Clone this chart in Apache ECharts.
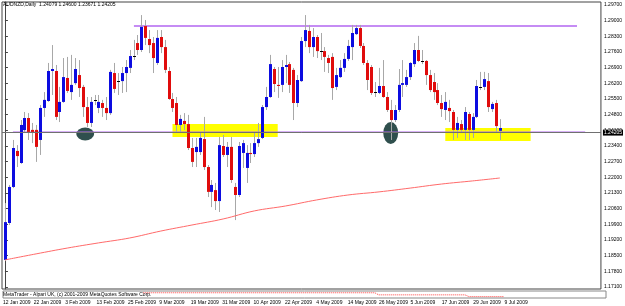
<!DOCTYPE html>
<html><head><meta charset="utf-8">
<script src="https://cdn.jsdelivr.net/npm/echarts@6/dist/echarts.min.js"></script>
<style>html,body{margin:0;padding:0;background:#fff;}#c{width:625px;height:306px;}</style>
</head><body><div id="c"></div>
<script>
// ---- data ----
const openP  = [1.1831,1.1996,1.2157,1.2318,1.2264,1.2411,1.2465,1.2412,1.2412,1.2367,1.2510,1.2541,1.2675,1.2675,1.2492,1.2537,1.2644,1.2581,1.2621,1.2657,1.2604,1.2514,1.2443,1.2546,1.2510,1.2532,1.2510,1.2487,1.2666,1.2630,1.2630,1.2666,1.2689,1.2742,1.2800,1.2769,1.2876,1.2818,1.2800,1.2711,1.2827,1.2782,1.2675,1.2550,1.2532,1.2434,1.2452,1.2438,1.2331,1.2313,1.2313,1.2371,1.2246,1.2135,1.2143,1.2094,1.2340,1.2300,1.2336,1.2157,1.2121,1.2309,1.2242,1.2309,1.2304,1.2353,1.2376,1.2514,1.2559,1.2684,1.2613,1.2613,1.2693,1.2706,1.2680,1.2532,1.2630,1.2809,1.2854,1.2782,1.2827,1.2764,1.2764,1.2733,1.2738,1.2604,1.2648,1.2689,1.2729,1.2782,1.2840,1.2867,1.2787,1.2711,1.2693,1.2581,1.2577,1.2608,1.2559,1.2501,1.2456,1.2501,1.2613,1.2613,1.2648,1.2706,1.2769,1.2720,1.2720,1.2657,1.2626,1.2590,1.2532,1.2501,1.2510,1.2492,1.2412,1.2438,1.2412,1.2483,1.2412,1.2470,1.2604,1.2604,1.2630,1.2505,1.2532,1.24079];
const closeP = [1.2000,1.2157,1.2331,1.2295,1.2434,1.2465,1.2403,1.2403,1.2336,1.2510,1.2546,1.2675,1.2684,1.2470,1.2537,1.2648,1.2586,1.2613,1.2684,1.2599,1.2514,1.2443,1.2537,1.2546,1.2537,1.2510,1.2487,1.2671,1.2595,1.2630,1.2666,1.2693,1.2742,1.2742,1.2769,1.2872,1.2823,1.2791,1.2733,1.2823,1.2782,1.2680,1.2550,1.2510,1.2434,1.2461,1.2438,1.2331,1.2269,1.2336,1.2376,1.2246,1.2135,1.2166,1.2094,1.2344,1.2300,1.2336,1.2188,1.2121,1.2340,1.2353,1.2309,1.2304,1.2353,1.2371,1.2514,1.2559,1.2706,1.2617,1.2608,1.2693,1.2702,1.2613,1.2532,1.2635,1.2809,1.2858,1.2782,1.2827,1.2764,1.2764,1.2738,1.2711,1.2599,1.2657,1.2689,1.2729,1.2787,1.2845,1.2867,1.2787,1.2711,1.2635,1.2577,1.2581,1.2608,1.2559,1.2501,1.2456,1.2501,1.2613,1.2621,1.2648,1.2711,1.2769,1.2720,1.2720,1.2657,1.2590,1.2581,1.2532,1.2505,1.2537,1.2496,1.2412,1.2443,1.2412,1.2492,1.2412,1.2470,1.2608,1.2604,1.2639,1.2514,1.2528,1.2429,1.24205];
const highP  = [1.2085,1.2166,1.2367,1.2344,1.2456,1.2492,1.2487,1.2443,1.2434,1.2523,1.2581,1.2711,1.2791,1.2702,1.2604,1.2733,1.2738,1.2747,1.2733,1.2724,1.2613,1.2559,1.2559,1.2568,1.2568,1.2546,1.2559,1.2680,1.2711,1.2666,1.2693,1.2724,1.2769,1.2814,1.2836,1.2925,1.2903,1.2858,1.2827,1.2858,1.2858,1.2814,1.2693,1.2577,1.2559,1.2479,1.2487,1.2479,1.2376,1.2376,1.2403,1.2470,1.2255,1.2188,1.2175,1.2380,1.2389,1.2358,1.2380,1.2175,1.2358,1.2367,1.2344,1.2353,1.2398,1.2443,1.2523,1.2604,1.2747,1.2693,1.2693,1.2724,1.2747,1.2715,1.2689,1.2657,1.2827,1.2925,1.2881,1.2867,1.2836,1.2845,1.2782,1.2747,1.2755,1.2689,1.2724,1.2755,1.2814,1.2881,1.2881,1.2881,1.2800,1.2724,1.2702,1.2626,1.2689,1.2724,1.2581,1.2546,1.2523,1.2684,1.2724,1.2680,1.2715,1.2800,1.2832,1.2769,1.2724,1.2680,1.2666,1.2621,1.2568,1.2581,1.2546,1.2501,1.2470,1.2456,1.2514,1.2492,1.2487,1.2635,1.2671,1.2671,1.2666,1.2537,1.2546,1.24600];
const lowP   = [1.1826,1.1987,1.2152,1.2246,1.2260,1.2398,1.2367,1.2353,1.2269,1.2300,1.2470,1.2537,1.2568,1.2456,1.2447,1.2533,1.2577,1.2546,1.2613,1.2559,1.2470,1.2425,1.2425,1.2523,1.2487,1.2470,1.2456,1.2479,1.2577,1.2568,1.2577,1.2581,1.2666,1.2724,1.2747,1.2760,1.2791,1.2755,1.2666,1.2702,1.2755,1.2666,1.2546,1.2492,1.2398,1.2398,1.2412,1.2322,1.2246,1.2246,1.2300,1.2233,1.2112,1.2067,1.2054,1.2045,1.2291,1.2246,1.2175,1.2009,1.2112,1.2242,1.2175,1.2264,1.2291,1.2336,1.2371,1.2501,1.2555,1.2581,1.2555,1.2581,1.2621,1.2577,1.2456,1.2514,1.2626,1.2782,1.2755,1.2738,1.2733,1.2724,1.2671,1.2666,1.2546,1.2590,1.2644,1.2671,1.2720,1.2724,1.2836,1.2778,1.2702,1.2590,1.2568,1.2559,1.2572,1.2555,1.2492,1.2367,1.2447,1.2492,1.2559,1.2604,1.2635,1.2693,1.2715,1.2706,1.2613,1.2581,1.2546,1.2523,1.2470,1.2456,1.2447,1.2367,1.2376,1.2398,1.2367,1.2367,1.2376,1.2465,1.2590,1.2590,1.2492,1.2492,1.2398,1.23671];

// moving average (read at sample bars)
const maIdx = [0,8,16,24,32,40,48,56,64,72,80,88,96,104,112,120,127];
const maVal = [1.1831,1.1858,1.1884,1.1907,1.1929,1.1960,1.1987,1.2014,1.2050,1.2072,1.2099,1.2121,1.2135,1.2152,1.2170,1.2184,1.2197];

// drawn objects (bar index / price)
const hLineX1 = [33.1, 2.05];
const hLineX2 = [146.8, 148.9];
const hLineP  = [1.28761, 1.24012];
const boxX1 = [43.0, 113.0];
const boxX2 = [70.0, 134.9];
const boxTop = [1.24383, 1.24204];
const boxBot = [1.23802, 1.23623];
const ovalX = [20.6, 99.0];
const ovalP = [1.23936, 1.23981];
const ovalRX = [2.29, 1.91];
const ovalRP = [0.00290, 0.00491];
const lastPrice = 1.24205;

// sub-window dotted line
const subIdx = [35, 94, 95, 117, 118, 127];
const subVal = [0.75, 0.75, 0.45, 0.45, 0.2, 0.2];

// axis ticks
const yTicks = [1.171,1.178,1.185,1.192,1.199,1.206,1.213,1.220,1.227,1.234,1.241,1.248,1.255,1.262,1.269,1.276,1.283,1.290,1.297];
const xTickPos = [0,8,16,24,32,40,48,56,64,72,80,88,96,104,112,120,128];
const xTickLabels = ['12 Jan 2009','22 Jan 2009','3 Feb 2009','13 Feb 2009','25 Feb 2009','9 Mar 2009','19 Mar 2009','31 Mar 2009','10 Apr 2009','22 Apr 2009','4 May 2009','14 May 2009','26 May 2009','5 Jun 2009','17 Jun 2009','29 Jun 2009','9 Jul 2009'];

// ---- build ----
const candles = openP.map((o, i) => [i, o, closeP[i], lowP[i], highP[i]]);
const FONT = 'Liberation Sans';
const XMIN = -0.75, XMAX = 152.94;
const LSHIFT = 0.9;

const chart = echarts.init(document.getElementById('c'), null, {renderer: 'canvas'});
chart.setOption({
  animation: false,
  backgroundColor: '#fff',
  title: {text: 'AUDNZD,Daily  1.24079 1.24600 1.23671 1.24205', left: 3, top: 2, padding: 0,
    textStyle: {fontSize: 5, fontWeight: 'normal', color: '#000', fontFamily: FONT}},
  graphic: [{type: 'text', left: 3, top: 292, silent: true,
    style: {text: 'MetaTrader - Alpari UK, (c) 2001-2009 MetaQuotes Software Corp.', fontSize: 5, fill: '#000', fontFamily: FONT}}],
  grid: [
    {left: 2, right: 19, top: 2, bottom: 17, show: true, borderColor: '#444', borderWidth: 1, backgroundColor: '#fff'},
    {left: 2, right: 19, top: 291, bottom: 8, show: true, borderColor: '#888', borderWidth: 1}
  ],
  xAxis: [
    {type: 'value', gridIndex: 0, min: XMIN, max: XMAX, show: false},
    {type: 'value', gridIndex: 1, min: XMIN, max: XMAX, position: 'bottom',
      axisLine: {show: false}, splitLine: {show: false},
      axisTick: {show: false},
      axisLabel: {show: true, customValues: xTickPos.map(v => Math.max(XMIN, v - LSHIFT)), align: 'left', margin: 2,
        fontSize: 5, color: '#000', fontFamily: FONT,
        formatter: v => { const k = Math.round((v + LSHIFT) / 8); return xTickLabels[k] || ''; }}}
  ],
  yAxis: [
    {type: 'value', gridIndex: 0, position: 'right', min: 1.17011, max: 1.29834,
      axisLine: {show: true, lineStyle: {color: '#444', width: 1}},
      axisTick: {show: true, length: 3, customValues: yTicks, lineStyle: {color: '#444'}},
      splitLine: {show: false},
      axisLabel: {show: true, customValues: yTicks, margin: 3, fontSize: 5, color: '#000', fontFamily: FONT,
        formatter: v => v.toFixed(5)}},
    {type: 'value', gridIndex: 1, min: 0, max: 1, show: false}
  ],
  series: [
    { // yellow rectangles
      type: 'custom', xAxisIndex: 0, yAxisIndex: 0, z: 1, silent: true,
      data: boxX1.map((x, i) => [x, boxX2[i], boxTop[i], boxBot[i]]),
      renderItem: (params, api) => {
        const a = api.coord([api.value(0), api.value(2)]);
        const b = api.coord([api.value(1), api.value(3)]);
        return {type: 'rect', shape: {x: a[0], y: a[1], width: b[0] - a[0], height: b[1] - a[1]},
          style: {fill: '#ffff00'}};
      }
    },
    { // ovals
      type: 'custom', xAxisIndex: 0, yAxisIndex: 0, z: 2, silent: true,
      data: ovalX.map((x, i) => [x, ovalP[i], ovalRX[i], ovalRP[i]]),
      renderItem: (params, api) => {
        const c = api.coord([api.value(0), api.value(1)]);
        const s = api.size([api.value(2), api.value(3)]);
        return {type: 'circle', shape: {cx: 0, cy: 0, r: 1}, x: c[0], y: c[1], scaleX: s[0], scaleY: s[1],
          style: {fill: '#2f4f4d'}};
      }
    },
    ...hLineP.map((p, i) => ({
      type: 'line', xAxisIndex: 0, yAxisIndex: 0, z: 3, silent: true, symbol: 'none',
      data: [[hLineX1[i], p], [hLineX2[i], p]],
      lineStyle: {color: '#b266f0', width: 1.5}
    })),
    { // candles
      type: 'custom', xAxisIndex: 0, yAxisIndex: 0, z: 4, silent: true,
      data: candles,
      encode: {x: 0, y: [1, 2, 3, 4]},
      renderItem: (params, api) => {
        const i = api.value(0), o = api.value(1), c = api.value(2), l = api.value(3), h = api.value(4);
        const pO = api.coord([i, o]), pC = api.coord([i, c]), pL = api.coord([i, l]), pH = api.coord([i, h]);
        const x = Math.round(pO[0]) + 0.5;
        const top = Math.min(pO[1], pC[1]), bot = Math.max(pO[1], pC[1]);
        const kids = [{type: 'line', shape: {x1: x, y1: pH[1], x2: x, y2: pL[1]}, style: {stroke: '#a8a8a8', lineWidth: 1}}];
        if (o === c) {
          const yy = Math.round(top) + 0.5;
          kids.push({type: 'line', shape: {x1: x - 1.5, y1: yy, x2: x + 1.5, y2: yy}, style: {stroke: '#000', lineWidth: 1}});
        } else {
          kids.push({type: 'rect', shape: {x: x - 1.5, y: top, width: 3, height: Math.max(1, bot - top)},
            style: {fill: c > o ? '#0c0ce0' : '#e00c0c'}});
        }
        return {type: 'group', children: kids};
      }
    },
    { // moving average + last price line
      type: 'line', xAxisIndex: 0, yAxisIndex: 0, z: 5, silent: true, symbol: 'none', smooth: 0.4,
      data: maIdx.map((x, i) => [x, maVal[i]]),
      lineStyle: {color: '#ff6a6a', width: 1},
      markLine: {silent: true, symbol: ['none', 'none'], animation: false,
        lineStyle: {color: '#707070', width: 1, type: 'solid'},
        label: {show: true, position: 'end', distance: 2, formatter: lastPrice.toFixed(5),
          backgroundColor: '#000', color: '#fff', fontSize: 5, fontFamily: FONT, padding: [1, 1, 0, 1]},
        data: [{yAxis: lastPrice}]}
    },
    { // sub-window dotted line
      type: 'line', xAxisIndex: 1, yAxisIndex: 1, z: 3, silent: true, symbol: 'none',
      data: subIdx.map((x, i) => [x, subVal[i]]),
      lineStyle: {color: '#ff4040', width: 1, type: 'dotted'}
    }
  ]
});
</script></body></html>
